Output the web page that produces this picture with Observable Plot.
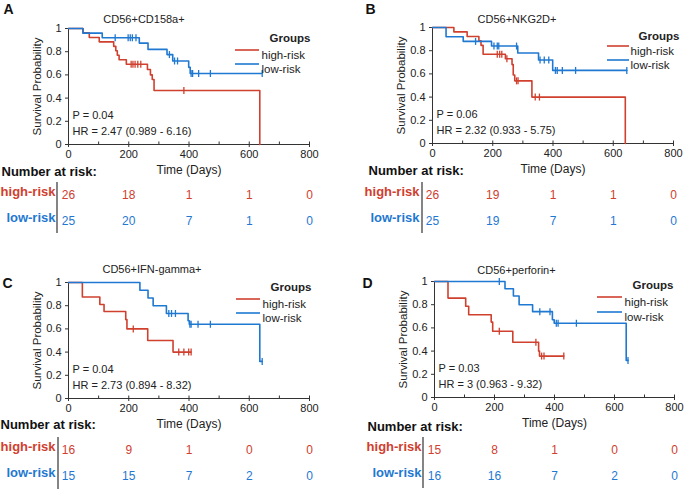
<!DOCTYPE html>
<html><head><meta charset="utf-8">
<script src="https://cdn.jsdelivr.net/npm/d3@7"></script>
<script src="https://cdn.jsdelivr.net/npm/@observablehq/plot@0.6"></script>
<style>
body{margin:0;background:#fff;}
#root{position:relative;width:685px;height:489px;overflow:hidden;font-family:Arial,"Liberation Sans",Helvetica,sans-serif;}
.panel{position:absolute;}
</style></head><body><div id="root"></div>
<script>
// ---- shared ticks / labels ----
const dayTicks = [0, 200, 400, 600, 800];
const minorDays = [0, 100, 200, 300, 400, 500, 600, 700, 800];
const probTicks = [0, 0.2, 0.4, 0.6, 0.8, 1];
const groups = ["high-risk", "low-risk"];

// ---- Panel A: CD56+CD158a+ ----
const aTitle = "CD56+CD158a+";
const aHighT = [0, 48, 69, 102, 150, 157, 162, 168, 192, 262, 272, 278, 284, 635];
const aHighS = [1, 0.962, 0.923, 0.885, 0.846, 0.808, 0.769, 0.731, 0.692, 0.646, 0.60, 0.56, 0.466, 0];
const aHighC = [208, 214, 221, 230, 240, 383];
const aLowT = [0, 48, 112, 235, 264, 327, 346, 399, 404, 643];
const aLowS = [1, 0.96, 0.92, 0.874, 0.82, 0.775, 0.72, 0.665, 0.612, 0.612];
const aLowC = [155, 198, 205, 212, 224, 335, 352, 362, 407, 412, 432, 471, 643];
const aRiskHigh = [26, 18, 1, 1, 0];
const aRiskLow = [25, 20, 7, 1, 0];
const aStats = ["P = 0.04", "HR = 2.47 (0.989 - 6.16)"];

// ---- Panel B: CD56+NKG2D+ ----
const bTitle = "CD56+NKG2D+";
const bHighT = [0, 71, 115, 154, 161, 168, 242, 264, 268, 273, 330, 640];
const bHighS = [1, 0.962, 0.923, 0.885, 0.846, 0.769, 0.731, 0.68, 0.59, 0.54, 0.40, 0];
const bHighC = [215, 223, 230, 247, 279, 284, 341, 355];
const bLowT = [0, 45, 102, 196, 283, 352, 399, 645];
const bLowS = [1, 0.92, 0.88, 0.84, 0.78, 0.72, 0.63, 0.63];
const bLowC = [143, 204, 215, 220, 279, 357, 371, 386, 408, 414, 431, 475, 645];
const bRiskHigh = [26, 19, 1, 1, 0];
const bRiskLow = [25, 19, 7, 1, 0];
const bStats = ["P = 0.06", "HR = 2.32 (0.933 - 5.75)"];

// ---- Panel C: CD56+IFN-gamma+ ----
const cTitle = "CD56+IFN-gamma+";
const cHighT = [0, 46, 104, 118, 190, 194, 263, 347, 407];
const cHighS = [1, 0.875, 0.81, 0.75, 0.68, 0.60, 0.50, 0.40, 0.40];
const cHighC = [215, 366, 383, 399, 407];
const cLowT = [0, 237, 264, 281, 325, 397, 401, 635, 643];
const cLowS = [1, 0.933, 0.867, 0.80, 0.733, 0.67, 0.64, 0.32, 0.32];
const cLowC = [333, 342, 355, 403, 407, 430, 471, 643];
const cRiskHigh = [16, 9, 1, 0, 0];
const cRiskLow = [15, 15, 7, 2, 0];
const cStats = ["P = 0.04", "HR = 2.73 (0.894 - 8.32)"];

// ---- Panel D: CD56+perforin+ ----
const dTitle = "CD56+perforin+";
const dHighT = [0, 45, 104, 114, 189, 194, 261, 347, 350, 431];
const dHighS = [1, 0.857, 0.786, 0.714, 0.65, 0.571, 0.476, 0.40, 0.357, 0.357];
const dHighC = [216, 338, 357, 365, 431];
const dLowT = [0, 235, 263, 282, 327, 393, 399, 639, 645];
const dLowS = [1, 0.9375, 0.875, 0.80, 0.74, 0.67, 0.64, 0.32, 0.32];
const dLowC = [216, 351, 385, 406, 412, 473, 645];
const dRiskHigh = [15, 8, 1, 0, 0];
const dRiskLow = [16, 16, 7, 2, 0];
const dStats = ["P = 0.03", "HR = 3 (0.963 - 9.32)"];

// ---- styles ----
const RED = "#d0402f", BLUE = "#1f78d1", AX = "#333", TXT = "#222";
const FONT = 'Arial, "Liberation Sans", Helvetica, sans-serif';

const vTick = {draw(ctx, size) { const r = Math.sqrt(size / Math.PI); ctx.moveTo(0, -r); ctx.lineTo(0, r); }};
const upTick = {draw(ctx, size) { const r = Math.sqrt(size / Math.PI); ctx.moveTo(0, 0); ctx.lineTo(0, -r); }};

function stepValue(T, S, t) { let s = S[0]; for (let i = 0; i < T.length; i++) if (T[i] <= t) s = S[i]; return s; }

function panel(letter, title, hT, hS, hC, lT, lS, lC, rHigh, rLow, stats, L) {
  const high = hT.map((t, i) => ({t, s: hS[i]}));
  const low = lT.map((t, i) => ({t, s: lS[i]}));
  const hc = hC.map(t => ({t, s: stepValue(hT, hS, t)}));
  const lc = lC.map(t => ({t, s: stepValue(lT, lS, t)}));
  const frameH = L.h - L.mt - L.mb;
  const svg = Plot.plot({
    width: L.w, height: L.h,
    marginLeft: L.ml, marginRight: L.mr, marginTop: L.mt, marginBottom: L.mb,
    x: {domain: [0, 800]},
    y: {domain: [0, 1]},
    style: {fontFamily: FONT, background: "transparent", overflow: "visible", color: TXT},
    marks: [
      Plot.ruleY([0], {stroke: AX}),
      Plot.ruleX([0], {stroke: AX}),
      Plot.axisX({ticks: dayTicks, tickSize: 3, tickPadding: 3, fontSize: 11, label: null, stroke: AX, fill: TXT}),
      Plot.dot(minorDays, {x: v => v, y: () => 0, symbol: upTick, r: 3, stroke: AX, strokeWidth: 1}),
      Plot.axisY({ticks: probTicks, tickSize: 3, tickPadding: 4, fontSize: 11, label: null, tickFormat: d3.format("~g"), stroke: AX, fill: TXT}),
      Plot.line(high, {x: "t", y: "s", curve: "step-after", stroke: RED, strokeWidth: 1.6}),
      Plot.line(low, {x: "t", y: "s", curve: "step-after", stroke: BLUE, strokeWidth: 1.6}),
      Plot.dot(hc, {x: "t", y: "s", symbol: vTick, r: 3.5, stroke: RED, strokeWidth: 1.3}),
      Plot.dot(lc, {x: "t", y: "s", symbol: vTick, r: 3.5, stroke: BLUE, strokeWidth: 1.3}),
      // labels
      Plot.text([title], {frameAnchor: "top", dx: L.titleDx, dy: L.titleDy, fontSize: 11, fill: TXT}),
      Plot.text([letter], {frameAnchor: "top-left", dx: L.letDx, dy: L.letDy, lineAnchor: "bottom", textAnchor: "start", fontSize: 14, fontWeight: "bold", fill: "#111"}),
      Plot.text(["Survival Probability"], {frameAnchor: "top-left", dx: -31, dy: frameH / 2, rotate: -90, textAnchor: "middle", lineAnchor: "middle", fontSize: 11.5, fill: TXT}),
      Plot.text(["Time (Days)"], {frameAnchor: "bottom", dy: 29, fontSize: 12, fill: TXT}),
      Plot.text([stats[0]], {frameAnchor: "bottom-left", dx: 4, dy: -26, textAnchor: "start", fontSize: 11, fill: TXT}),
      Plot.text([stats[1]], {frameAnchor: "bottom-left", dx: 4, dy: -10, textAnchor: "start", fontSize: 11, fill: TXT}),
      // legend labels
      Plot.text(["Groups"], {frameAnchor: "top-left", dx: L.grpDx, dy: L.grpDy, fontSize: 11.5, fontWeight: "bold", fill: TXT}),
      Plot.text([groups[0]], {frameAnchor: "top-left", dx: L.legTx, dy: L.legY[0], textAnchor: "start", fontSize: 11.5, fill: TXT}),
      Plot.text([groups[1]], {frameAnchor: "top-left", dx: L.legTx, dy: L.legY[1], textAnchor: "start", fontSize: 11.5, fill: TXT}),
      // risk table
      Plot.text(["Number at risk:"], {frameAnchor: "bottom-left", dx: L.narDx, dy: L.narDy, textAnchor: "start", fontSize: 13, fontWeight: "bold", fill: "#111"}),
      Plot.text([groups[0]], {frameAnchor: "bottom-left", dx: -13, dy: L.rowDy[0], textAnchor: "end", fontSize: 13, fontWeight: "bold", fill: RED}),
      Plot.text([groups[1]], {frameAnchor: "bottom-left", dx: -13, dy: L.rowDy[1], textAnchor: "end", fontSize: 13, fontWeight: "bold", fill: BLUE}),
      Plot.text(dayTicks, {x: v => v, y: () => 0, dy: L.rowDy[0], text: (v, i) => String(rHigh[i]), fontSize: 12, fill: RED}),
      Plot.text(dayTicks, {x: v => v, y: () => 0, dy: L.rowDy[1], text: (v, i) => String(rLow[i]), fontSize: 12, fill: BLUE})
    ]
  });
  const s = d3.select(svg);
  const g = s.append("g");
  [[RED, L.legY[0]], [BLUE, L.legY[1]]].forEach(([c, y]) => {
    g.append("line").attr("x1", L.ml + L.legX[0]).attr("x2", L.ml + L.legX[1])
      .attr("y1", L.mt + y).attr("y2", L.mt + y).attr("stroke", c).attr("stroke-width", 1.6);
  });
  const yb = L.h - L.mb;
  g.append("line").attr("x1", L.ml + L.sepDx).attr("x2", L.ml + L.sepDx)
    .attr("y1", yb + L.sepY[0]).attr("y2", yb + L.sepY[1]).attr("stroke", "#333").attr("stroke-width", 1.2);
  const div = document.createElement("div");
  div.className = "panel";
  div.style.left = L.left + "px";
  div.style.top = L.top + "px";
  div.appendChild(svg);
  document.getElementById("root").appendChild(div);
}

panel("A", aTitle, aHighT, aHighS, aHighC, aLowT, aLowS, aLowC, aRiskHigh, aRiskLow, aStats,
  {left: 0, top: 0, w: 340, h: 240, ml: 68, mr: 31, mt: 28, mb: 96, titleDx: -45, titleDy: -13, letDx: -65, letDy: -15,
   grpDx: 201, grpDy: 5, legX: [167, 191], legTx: 193, legY: [22, 36], narDx: -67, narDy: 31, rowDy: [51, 77], sepDx: -11, sepY: [38, 89]});
panel("B", bTitle, bHighT, bHighS, bHighC, bLowT, bLowS, bLowC, bRiskHigh, bRiskLow, bStats,
  {left: 340, top: 0, w: 345, h: 240, ml: 92, mr: 12, mt: 27, mb: 97, titleDx: -36, titleDy: -12, letDx: -67, letDy: -14,
   grpDx: 206, grpDy: 4, legX: [175, 197], legTx: 198, legY: [19, 33], narDx: -64, narDy: 31, rowDy: [52, 78], sepDx: -10, sepY: [39, 90]});
panel("C", cTitle, cHighT, cHighS, cHighC, cLowT, cLowS, cLowC, cRiskHigh, cRiskLow, cStats,
  {left: 0, top: 240, w: 340, h: 249, ml: 68, mr: 31, mt: 42, mb: 91, titleDx: -37, titleDy: -17, letDx: -66, letDy: 5,
   grpDx: 202, grpDy: 0, legX: [168, 192], legTx: 194, legY: [17, 31], narDx: -68, narDy: 30, rowDy: [52, 78], sepDx: -10, sepY: [39, 91]});
panel("D", dTitle, dHighT, dHighS, dHighC, dLowT, dLowS, dLowC, dRiskHigh, dRiskLow, dStats,
  {left: 340, top: 240, w: 345, h: 249, ml: 94, mr: 11, mt: 41, mb: 92, titleDx: -38, titleDy: -15, letDx: -72, letDy: 6,
   grpDx: 198, grpDy: -1, legX: [163, 188], legTx: 190, legY: [16, 31], narDx: -67, narDy: 33, rowDy: [53, 79], sepDx: -11, sepY: [40, 91]});
</script>
</body></html>
